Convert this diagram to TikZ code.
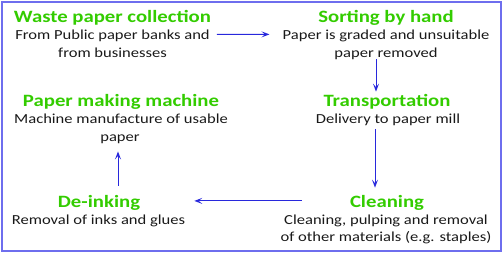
\documentclass[tikz,border=0pt]{standalone}
\usepackage{fontspec}
\setmainfont{Carlito}[FakeStretch=1.2]
\usetikzlibrary{arrows.meta}
\definecolor{ttlgreen}{RGB}{51,204,0}
\definecolor{arrblue}{RGB}{40,40,220}
\definecolor{frameblue}{RGB}{110,110,238}
\tikzset{
  ttl/.style={anchor=base,inner sep=1pt,font=\fontsize{17.3}{20}\selectfont\bfseries,text=ttlgreen},
  txt/.style={anchor=base,inner sep=1pt,font=\fontsize{13.8}{17}\selectfont,text=black!90},
  arr/.style={draw=arrblue,line width=1pt,-{Stealth[length=8pt,width=6pt,inset=3.5pt,open]}}
}
\begin{document}
\begin{tikzpicture}[x=1pt,y=-1pt]
\useasboundingbox (0,0) rectangle (502,252);
\draw[frameblue,line width=2pt] (1.5,1.5) rectangle (500.5,250.5);
% Waste paper collection
\node[ttl] (w) at (112.5,22) {Waste paper collection};
\node[txt] (w1) at (112.5,39.5) {From Public paper banks and};
\node[txt] (w2) at (112.5,57) {from businesses};
% Sorting by hand
\node[ttl] (s) at (386,22) {Sorting by hand};
\node[txt] (s1) at (386,39.5) {Paper is graded and unsuitable};
\node[txt] (s2) at (386,57) {paper removed};
% Transportation
\node[ttl] (t) at (387,106.5) {Transportation};
\node[txt] (t1) at (388,123.5) {Delivery to paper mill};
% Cleaning
\node[ttl] (c) at (387,207) {Cleaning};
\node[txt] (c1) at (386,224) {Cleaning, pulping and removal};
\node[txt] (c2) at (386,241.5) {of other materials (e.g. staples)};
% De-inking
\node[ttl] (d) at (99,207) {De-inking};
\node[txt] (d1) at (98.5,224) {Removal of inks and glues};
% Paper making machine
\node[ttl] (p) at (121,106) {Paper making machine};
\node[txt] (p1) at (121,123.5) {Machine manufacture of usable};
\node[txt] (p2) at (120,141) {paper};
% connectors
\coordinate (a1s) at ([xshift=6pt,yshift=1.5pt]w1.east);
\coordinate (a1e) at ([xshift=-12pt,yshift=1.5pt]s1.west);
\draw[arr] (a1s) -- (a1e);
\draw[arr] ([xshift=-10pt,yshift=1pt]s2.south) -- ([xshift=-11pt,yshift=1.5pt]t.north);
\draw[arr] ([xshift=-13pt,yshift=-2.5pt]t1.south) -- ([xshift=-12pt,yshift=6pt]c.north);
\coordinate (a4s) at ([xshift=-47pt,yshift=1.5pt]c.west);
\coordinate (a4e) at ([xshift=53pt,yshift=1.5pt]d.east);
\draw[arr] (a4s) -- (a4e);
\draw[arr] ([xshift=19pt,yshift=8pt]d.north) -- ([xshift=-2pt,yshift=-7pt]p2.south);
\end{tikzpicture}
\end{document}
